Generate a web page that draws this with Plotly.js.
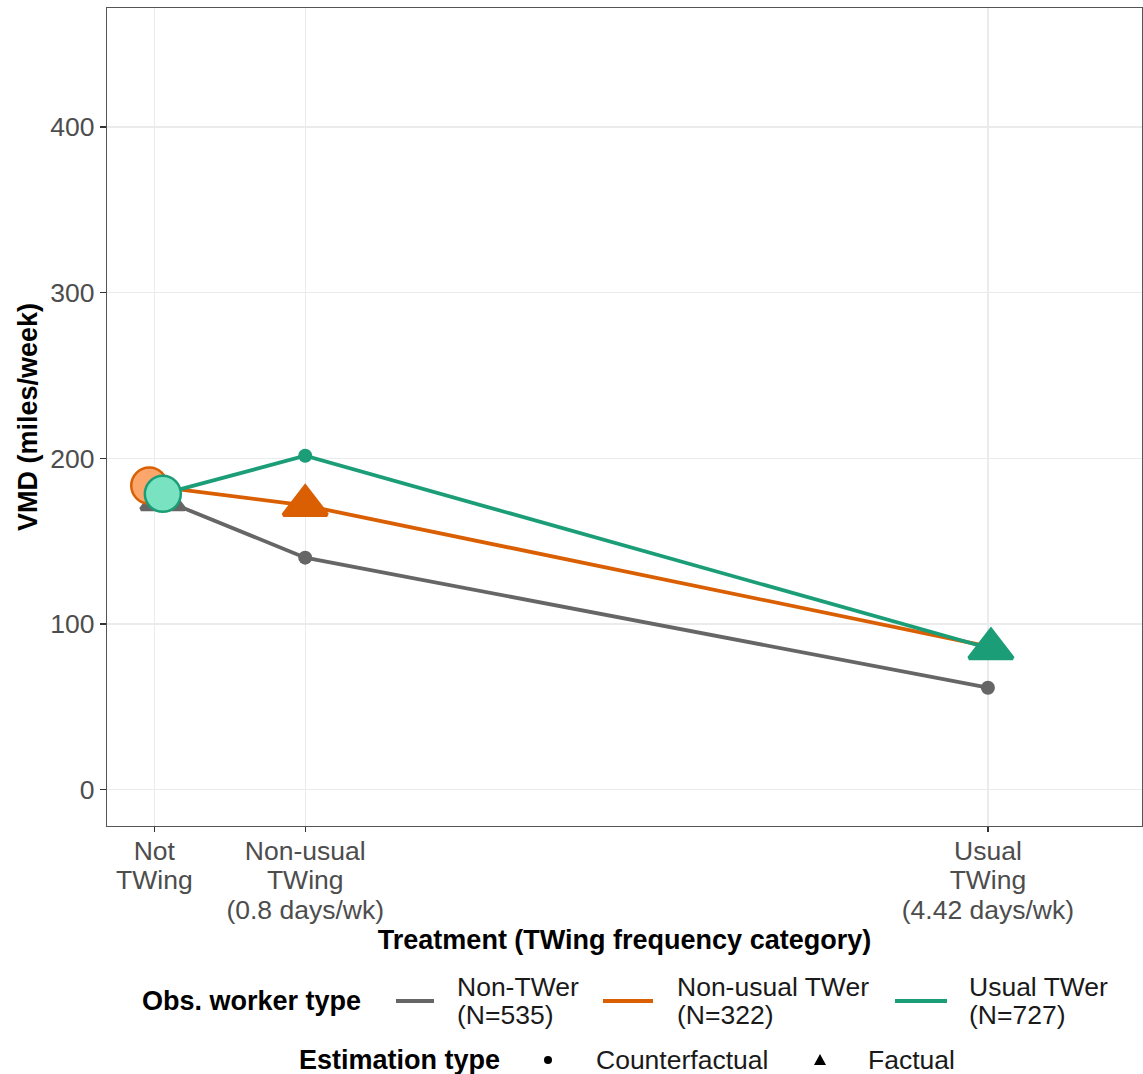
<!DOCTYPE html>
<html>
<head>
<meta charset="utf-8">
<script src="https://cdn.plot.ly/plotly-3.0.1.min.js"></script>
<style>html,body{margin:0;padding:0;background:#fff;}</style>
</head>
<body>
<div id="chart" style="width:1143px;height:1074px;"></div>
<script>
// ---------- DATA ----------
const treatmentTicks = [0, 0.8, 4.42];
const tickLabels = [
  ["Not", "TWing"],
  ["Non-usual", "TWing", "(0.8 days/wk)"],
  ["Usual", "TWing", "(4.42 days/wk)"]
];
const workerNames = ["Non-TWer", "Non-usual TWer", "Usual TWer"];
const workerN = [535, 322, 727];

// x positions as drawn (slightly dodged at the category)
const xNonTWer       = [0.045, 0.8, 4.42];
const xNonUsualTWer  = [-0.027, 0.8, 4.42];
const xUsualTWer     = [0.045, 0.8, 4.436];

// VMD (miles/week)
const vmdNonTWer      = [175, 140, 61.5];
const vmdNonUsualTWer = [183.5, 171.5, 86.5];
const vmdUsualTWer    = [178.5, 201.5, 85];

// estimation type of each point
const estNonTWer      = ["Factual", "Counterfactual", "Counterfactual"];
const estNonUsualTWer = ["Counterfactual", "Factual", "Counterfactual"];
const estUsualTWer    = ["Counterfactual", "Counterfactual", "Factual"];

const yTicks = [0, 100, 200, 300, 400];

// ---------- STYLE ----------
const colors = ["#666666", "#D95F02", "#1B9E77"];
const lightFill = ["#999999", "#FCA66B", "#78E2C1"];
const FONT = "Liberation Sans, Arial, Helvetica, sans-serif";
const TXT = 26.5, TTL = 27;

const series = [
  {x: xNonTWer, y: vmdNonTWer, est: estNonTWer},
  {x: xNonUsualTWer, y: vmdNonUsualTWer, est: estNonUsualTWer},
  {x: xUsualTWer, y: vmdUsualTWer, est: estUsualTWer}
];

const traces = [];
// lines
series.forEach((s, i) => {
  traces.push({
    type: "scatter", mode: "lines", x: s.x, y: s.y,
    line: {color: colors[i], width: 3.8}, hoverinfo: "skip", showlegend: false, cliponaxis: false
  });
});
// points
series.forEach((s, i) => {
  const pick = (cond) => {
    const xs = [], ys = [];
    s.x.forEach((xv, k) => { if (cond(k)) { xs.push(xv); ys.push(s.y[k]); } });
    return {xs, ys};
  };
  const fac = pick(k => s.est[k] === "Factual");
  const cf0 = pick(k => s.est[k] === "Counterfactual" && Math.abs(s.x[k]) < 0.2);
  const cf = pick(k => s.est[k] === "Counterfactual" && Math.abs(s.x[k]) >= 0.2);
  traces.push({
    type: "scatter", mode: "markers", x: fac.xs, y: fac.ys, showlegend: false, cliponaxis: false,
    marker: {symbol: "triangle-up", size: 38, color: colors[i], line: {color: colors[i], width: 4}}
  });
  traces.push({
    type: "scatter", mode: "markers", x: cf.xs, y: cf.ys, showlegend: false, cliponaxis: false,
    marker: {symbol: "circle", size: 14, color: colors[i], line: {width: 0}}
  });
  traces.push({
    type: "scatter", mode: "markers", x: cf0.xs, y: cf0.ys, showlegend: false, cliponaxis: false,
    marker: {symbol: "circle", size: 36, color: lightFill[i], line: {color: colors[i], width: 2.5}}
  });
});

// ---------- GEOMETRY HELPERS (legend placement in pixels) ----------
const L = 107, R = 1142, T = 8, B = 826;
const px = v => (v - L) / (R - L);
const py = v => (B - v) / (B - T);
const span = (t, sz) => `<span style="font-size:${sz}px">${t}</span>`;
const multi = (lines, sz) => lines.map(l => span(l, sz)).join("<br>");

const annotations = [];
const shapes = [];

// Legend row 1
annotations.push({xref: "paper", yref: "paper", x: px(140), y: py(1001), xanchor: "left", yanchor: "middle",
  text: "<b>Obs. worker type</b>", showarrow: false, font: {family: FONT, size: TTL, color: "#000"}});
const lineX = [[396, 434], [603, 653], [895, 947]];
const textX = [455, 675, 967];
workerNames.forEach((n, i) => {
  shapes.push({type: "line", xref: "paper", yref: "paper", x0: px(lineX[i][0]), x1: px(lineX[i][1]),
    y0: py(1001), y1: py(1001), line: {color: colors[i], width: 3.8}});
  annotations.push({xref: "paper", yref: "paper", x: px(textX[i]), y: py(1001), xanchor: "left", yanchor: "middle",
    align: "left", text: multi([n, "(N=" + workerN[i] + ")"], TXT), showarrow: false,
    font: {family: FONT, size: 21.5, color: "#1a1a1a"}});
});
// Legend row 2
annotations.push({xref: "paper", yref: "paper", x: px(297), y: py(1060), xanchor: "left", yanchor: "middle",
  text: "<b>Estimation type</b>", showarrow: false, font: {family: FONT, size: TTL, color: "#000"}});
shapes.push({type: "circle", xref: "paper", yref: "paper", x0: px(544), x1: px(552), y0: py(1056), y1: py(1064),
  fillcolor: "#000", line: {width: 0}});
annotations.push({xref: "paper", yref: "paper", x: px(594), y: py(1060), xanchor: "left", yanchor: "middle",
  text: "Counterfactual", showarrow: false, font: {family: FONT, size: TXT, color: "#1a1a1a"}});
shapes.push({type: "path", xref: "paper", yref: "paper",
  path: `M${px(814)},${py(1065)} L${px(826)},${py(1065)} L${px(820)},${py(1054)} Z`,
  fillcolor: "#000", line: {width: 0}});
annotations.push({xref: "paper", yref: "paper", x: px(866), y: py(1060), xanchor: "left", yanchor: "middle",
  text: "Factual", showarrow: false, font: {family: FONT, size: TXT, color: "#1a1a1a"}});

const layout = {
  width: 1143, height: 1074,
  margin: {l: 107, r: 1, t: 8, b: 248, pad: 0},
  paper_bgcolor: "#fff", plot_bgcolor: "#fff",
  showlegend: false,
  font: {family: FONT},
  xaxis: {
    range: [-0.251, 5.237], tickmode: "array", tickvals: treatmentTicks,
    ticktext: tickLabels.map(l => multi(l, TXT)),
    tickfont: {family: FONT, size: 22.7, color: "#4D4D4D"},
    ticks: "outside", ticklen: 5, tickcolor: "#333", tickwidth: 1.2,
    showgrid: true, gridcolor: "#EBEBEB", gridwidth: 1.4, zeroline: false,
    showline: true, mirror: true, linecolor: "#555", linewidth: 1.3,
    title: {text: "<b>Treatment (TWing frequency category)</b>", font: {family: FONT, size: TTL, color: "#000"}, standoff: 6},
    automargin: false, fixedrange: true
  },
  yaxis: {
    range: [-22, 471.8], tickmode: "array", tickvals: yTicks, ticktext: yTicks.map(String),
    tickfont: {family: FONT, size: TXT, color: "#4D4D4D"},
    ticks: "outside", ticklen: 6, tickcolor: "#333", tickwidth: 1.2,
    showgrid: true, gridcolor: "#EBEBEB", gridwidth: 1.4, zeroline: false,
    showline: true, mirror: true, linecolor: "#555", linewidth: 1.3,
    title: {text: "<b>VMD (miles/week)</b>", font: {family: FONT, size: TTL, color: "#000"}, standoff: 4},
    automargin: false, fixedrange: true
  },
  annotations: annotations,
  shapes: shapes
};

Plotly.newPlot("chart", traces, layout, {staticPlot: true, displayModeBar: false});
</script>
</body>
</html>
